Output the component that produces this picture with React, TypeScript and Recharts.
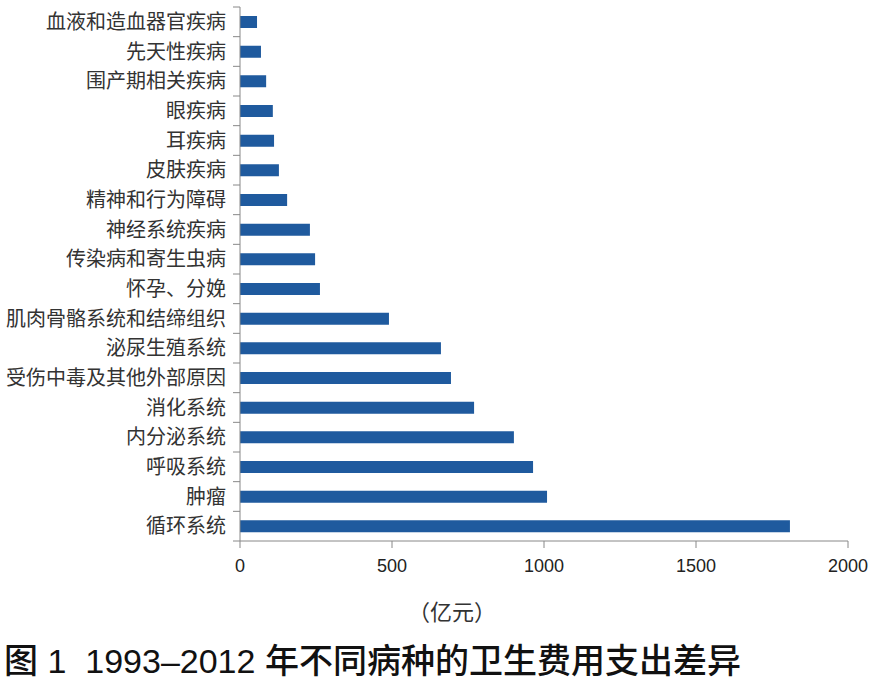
import React from "react";
import { BarChart, Bar, XAxis, YAxis } from "recharts";

// top to bottom as drawn
const categories = [
  "血液和造血器官疾病",
  "先天性疾病",
  "围产期相关疾病",
  "眼疾病",
  "耳疾病",
  "皮肤疾病",
  "精神和行为障碍",
  "神经系统疾病",
  "传染病和寄生虫病",
  "怀孕、分娩",
  "肌肉骨骼系统和结缔组织",
  "泌尿生殖系统",
  "受伤中毒及其他外部原因",
  "消化系统",
  "内分泌系统",
  "呼吸系统",
  "肿瘤",
  "循环系统",
];

const spending = [
  56, 69, 86, 108, 112, 128, 155, 230, 247, 263, 490, 661, 694, 770, 901, 964,
  1010, 1809,
];

const xTicks = [0, 500, 1000, 1500, 2000];

const CJK = '"Noto Sans CJK SC", sans-serif';

const CategoryTick = (props: any) => {
  const { x, y, payload, index } = props;
  const band = 534 / categories.length;
  return (
    <g>
      <text
        x={x - 6}
        y={y}
        dy={7}
        textAnchor="end"
        fontFamily={CJK}
        fontSize={20}
        fill="#333"
      >
        {payload.value}
      </text>
      <line x1={x + 1} x2={x + 8} y1={y - band / 2} y2={y - band / 2} stroke="#888" />
      {index === categories.length - 1 && (
        <line x1={x + 1} x2={x + 8} y1={y + band / 2} y2={y + band / 2} stroke="#888" />
      )}
    </g>
  );
};

const App: React.FC = () => {
  const chartData = categories.map((name, i) => ({ name, value: spending[i] }));

  return (
    <div
      style={{
        position: "absolute",
        left: 0,
        top: 0,
        width: 876,
        height: 683,
        background: "#fff",
      }}
    >
      <BarChart
        width={876}
        height={600}
        data={chartData}
        layout="vertical"
        margin={{ top: 7, right: 28, left: 0, bottom: 19 }}
      >
        <XAxis
          type="number"
          domain={[0, 2000]}
          ticks={xTicks}
          height={40}
          stroke="#888"
          tickSize={7}
          tick={{
            fill: "#222",
            fontSize: 18,
            fontFamily: '"Liberation Sans Narrow", "Liberation Sans", sans-serif',
          }}
          tickMargin={11}
        />
        <YAxis
          type="category"
          dataKey="name"
          width={240}
          stroke="#888"
          tickLine={false}
          interval={0}
          tick={<CategoryTick />}
        />
        <Bar
          dataKey="value"
          fill="#1f5a9e"
          barSize={12}
          isAnimationActive={false}
        />
      </BarChart>
      <div
        style={{
          position: "absolute",
          left: 408,
          top: 594,
          fontFamily: CJK,
          fontSize: 22,
          color: "#333",
        }}
      >
        （亿元）
      </div>
      <div
        style={{
          position: "absolute",
          left: 4,
          top: 634,
          fontFamily: '"Liberation Sans", "Noto Sans CJK SC", sans-serif',
          fontSize: 34,
          fontWeight: 500,
          color: "#111",
          whiteSpace: "nowrap",
        }}
      >
        图 1&nbsp;&nbsp;1993–2012 年不同病种的卫生费用支出差异
      </div>
    </div>
  );
};

export default App;
